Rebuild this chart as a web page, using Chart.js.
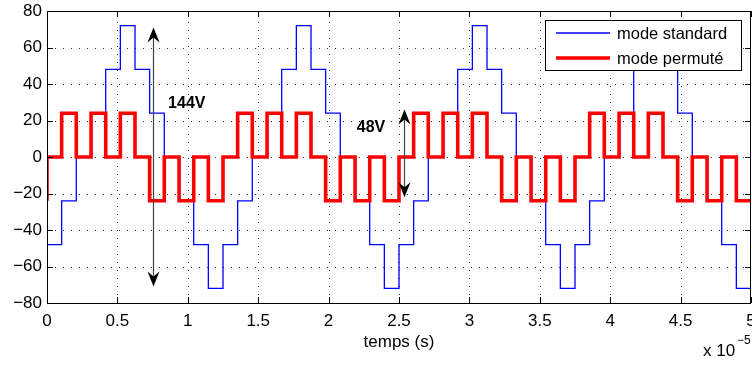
<!DOCTYPE html>
<html>
<head>
<meta charset="utf-8">
<script src="https://cdn.jsdelivr.net/npm/chart.js@4/dist/chart.umd.min.js"></script>
<style>
  html, body { margin: 0; padding: 0; background: #fff; }
  #wrap { width: 752px; height: 365px; }
</style>
</head>
<body>
<div id="wrap"><canvas id="chart" width="752" height="365"></canvas></div>
<script>
// step edges (x 10^-5 s), 12 steps per period, 4 periods
const stepTimes = [
  0, 0.104, 0.208, 0.313, 0.417, 0.521, 0.625, 0.729, 0.833, 0.938, 1.042, 1.146,
  1.25, 1.354, 1.458, 1.563, 1.667, 1.771, 1.875, 1.979, 2.083, 2.188, 2.292, 2.396,
  2.5, 2.604, 2.708, 2.813, 2.917, 3.021, 3.125, 3.229, 3.333, 3.438, 3.542, 3.646,
  3.75, 3.854, 3.958, 4.063, 4.167, 4.271, 4.375, 4.479, 4.583, 4.688, 4.792, 4.896,
  5
];

// mode standard (V), value held from each step edge
const standardStart = -72;
const standardValues = [
  -48, -24, 0, 24, 48, 72, 48, 24, 0, -24, -48, -72,
  -48, -24, 0, 24, 48, 72, 48, 24, 0, -24, -48, -72,
  -48, -24, 0, 24, 48, 72, 48, 24, 0, -24, -48, -72,
  -48, -24, 0, 24, 48, 72, 48, 24, 0, -24, -48, -72
];

// mode permuté (V)
const permuteStart = -24;
const permuteValues = [
  0, 24, 0, 24, 0, 24, 0, -24, 0, -24, 0, -24,
  0, 24, 0, 24, 0, 24, 0, -24, 0, -24, 0, -24,
  0, 24, 0, 24, 0, 24, 0, -24, 0, -24, 0, -24,
  0, 24, 0, 24, 0, 24, 0, -24, 0, -24, 0, -24
];

const seriesNames = ["mode standard", "mode permuté"];

// annotations: double arrows [x, yFrom, yTo] and their labels [x, y, text]
const arrows = [[0.75, -71, 71], [2.538, -22, 26]];
const arrowLabels = [[0.86, 29, "144V"], [2.2, 16, "48V"]];

const FONT = "'Liberation Sans', Arial, Helvetica, sans-serif";

function toPoints(start, values) {
  const pts = [{ x: stepTimes[0], y: start }];
  values.forEach((v, i) => pts.push({ x: stepTimes[i], y: v }));
  pts.push({ x: stepTimes[stepTimes.length - 1], y: values[values.length - 1] });
  return pts;
}

function arrowHead(ctx, x, y, dir) {
  // dir = -1 points up, 1 points down
  const len = 15, half = 6, notch = 5;
  ctx.beginPath();
  ctx.moveTo(x, y);
  ctx.lineTo(x - half, y - dir * len);
  ctx.lineTo(x, y - dir * (len - notch));
  ctx.lineTo(x + half, y - dir * len);
  ctx.closePath();
  ctx.fill();
}

function noPad(s) {
  s.paddingLeft = 0; s.paddingRight = 0; s.paddingTop = 0; s.paddingBottom = 0;
}

const matlabAxes = {
  id: "matlabAxes",
  beforeDatasetsDraw(chart) {
    const { ctx, chartArea: a, scales: { x, y } } = chart;
    ctx.save();
    ctx.strokeStyle = "#333";
    ctx.lineWidth = 1;
    ctx.setLineDash([1, 7]);
    x.ticks.forEach(t => {
      const px = Math.round(x.getPixelForValue(t.value)) + 0.5;
      if (px <= a.left + 1 || px >= a.right - 1) return;
      ctx.beginPath();
      ctx.moveTo(px, a.bottom);
      ctx.lineTo(px, a.top);
      ctx.stroke();
    });
    y.ticks.forEach(t => {
      const py = Math.round(y.getPixelForValue(t.value)) + 0.5;
      if (py <= a.top + 1 || py >= a.bottom - 1) return;
      ctx.beginPath();
      ctx.moveTo(a.left, py);
      ctx.lineTo(a.right, py);
      ctx.stroke();
    });
    ctx.restore();
  },
  afterDatasetsDraw(chart) {
    const { ctx, chartArea: a, scales: { x, y } } = chart;
    const tl = 6;
    ctx.save();
    ctx.strokeStyle = "#000";
    ctx.lineWidth = 1;
    ctx.setLineDash([]);
    ctx.strokeRect(Math.round(a.left) + 0.5, Math.round(a.top) + 0.5,
      Math.round(a.right - a.left) - 1, Math.round(a.bottom - a.top));
    ctx.beginPath();
    x.ticks.forEach(t => {
      const px = Math.round(x.getPixelForValue(t.value)) + 0.5;
      ctx.moveTo(px, a.bottom); ctx.lineTo(px, a.bottom - tl);
      ctx.moveTo(px, a.top); ctx.lineTo(px, a.top + tl);
    });
    y.ticks.forEach(t => {
      const py = Math.round(y.getPixelForValue(t.value)) + 0.5;
      ctx.moveTo(a.left, py); ctx.lineTo(a.left + tl, py);
      ctx.moveTo(a.right, py); ctx.lineTo(a.right - tl, py);
    });
    ctx.stroke();
    ctx.restore();
  },
  afterDraw(chart) {
    const { ctx, chartArea: a, scales: { x, y } } = chart;
    ctx.save();

    // arrows
    arrows.forEach(([ax, y0, y1]) => {
      const px = Math.round(x.getPixelForValue(ax)) + 0.5;
      const pTop = y.getPixelForValue(y1), pBot = y.getPixelForValue(y0);
      ctx.strokeStyle = "#444";
      ctx.lineWidth = 1.2;
      ctx.beginPath();
      ctx.moveTo(px, pTop + 8);
      ctx.lineTo(px, pBot - 8);
      ctx.stroke();
      ctx.fillStyle = "#000";
      arrowHead(ctx, px, pTop, -1);
      arrowHead(ctx, px, pBot, 1);
    });
    ctx.fillStyle = "#000";
    ctx.font = "bold 16px " + FONT;
    ctx.textAlign = "left";
    ctx.textBaseline = "middle";
    arrowLabels.forEach(([lx, ly, txt]) => {
      ctx.fillText(txt, x.getPixelForValue(lx), y.getPixelForValue(ly));
    });

    // legend
    const lx = 545.5, ly = 20.5, lw = 196, lh = 50;
    ctx.fillStyle = "#fff";
    ctx.fillRect(lx, ly, lw, lh);
    ctx.strokeStyle = "#000";
    ctx.lineWidth = 1;
    ctx.strokeRect(lx, ly, lw, lh);
    const ds = chart.data.datasets;
    [33, 58].forEach((yy, i) => {
      ctx.strokeStyle = ds[i].borderColor;
      ctx.lineWidth = ds[i].borderWidth;
      ctx.beginPath();
      ctx.moveTo(556, yy);
      ctx.lineTo(610, yy);
      ctx.stroke();
      ctx.fillStyle = "#000";
      ctx.font = "16.5px " + FONT;
      ctx.textAlign = "left";
      ctx.textBaseline = "middle";
      ctx.fillText(seriesNames[i], 617, yy + 1);
    });

    // axis title and exponent
    ctx.fillStyle = "#000";
    ctx.font = "17px " + FONT;
    ctx.textAlign = "center";
    ctx.textBaseline = "middle";
    ctx.fillText("temps (s)", (a.left + a.right) / 2, 342);
    ctx.textAlign = "left";
    ctx.fillText("x 10", 703, 351);
    ctx.font = "12px " + FONT;
    ctx.fillText("\u22125", 737, 341);
    ctx.restore();
  }
};

const ctx = document.getElementById("chart").getContext("2d");
const chart = new Chart(ctx, {
  type: "line",
  data: {
    datasets: [{
      label: seriesNames[0],
      data: toPoints(standardStart, standardValues),
      borderColor: "#0000ff",
      borderWidth: 1.3,
      stepped: true,
      pointRadius: 0,
      order: 2
    }, {
      label: seriesNames[1],
      data: toPoints(permuteStart, permuteValues),
      borderColor: "#ff0000",
      borderWidth: 3.6,
      stepped: true,
      pointRadius: 0,
      order: 1
    }]
  },
  options: {
    responsive: false,
    animation: false,
    layout: { padding: { top: 11, right: 1, left: 0, bottom: 0 } },
    plugins: { legend: { display: false }, tooltip: { enabled: false } },
    scales: {
      x: {
        type: "linear",
        min: 0, max: 5,
        grid: { display: false, drawTicks: false, tickLength: 0 },
        border: { display: false },
        ticks: {
          stepSize: 0.5, autoSkip: false, maxRotation: 0, padding: 8,
          color: "#000", font: { family: FONT, size: 17 },
          callback: v => String(Math.round(v * 10) / 10)
        },
        afterFit: s => { s.height = 62; noPad(s); }
      },
      y: {
        min: -80, max: 80,
        grid: { display: false, drawTicks: false, tickLength: 0 },
        border: { display: false },
        ticks: {
          stepSize: 20, autoSkip: false, padding: 5,
          color: "#000", font: { family: FONT, size: 17 },
          callback: v => (v < 0 ? "\u2212" + Math.abs(v) : String(v))
        },
        afterFit: s => { s.width = 47; noPad(s); }
      }
    }
  },
  plugins: [matlabAxes]
});
</script>
</body>
</html>
